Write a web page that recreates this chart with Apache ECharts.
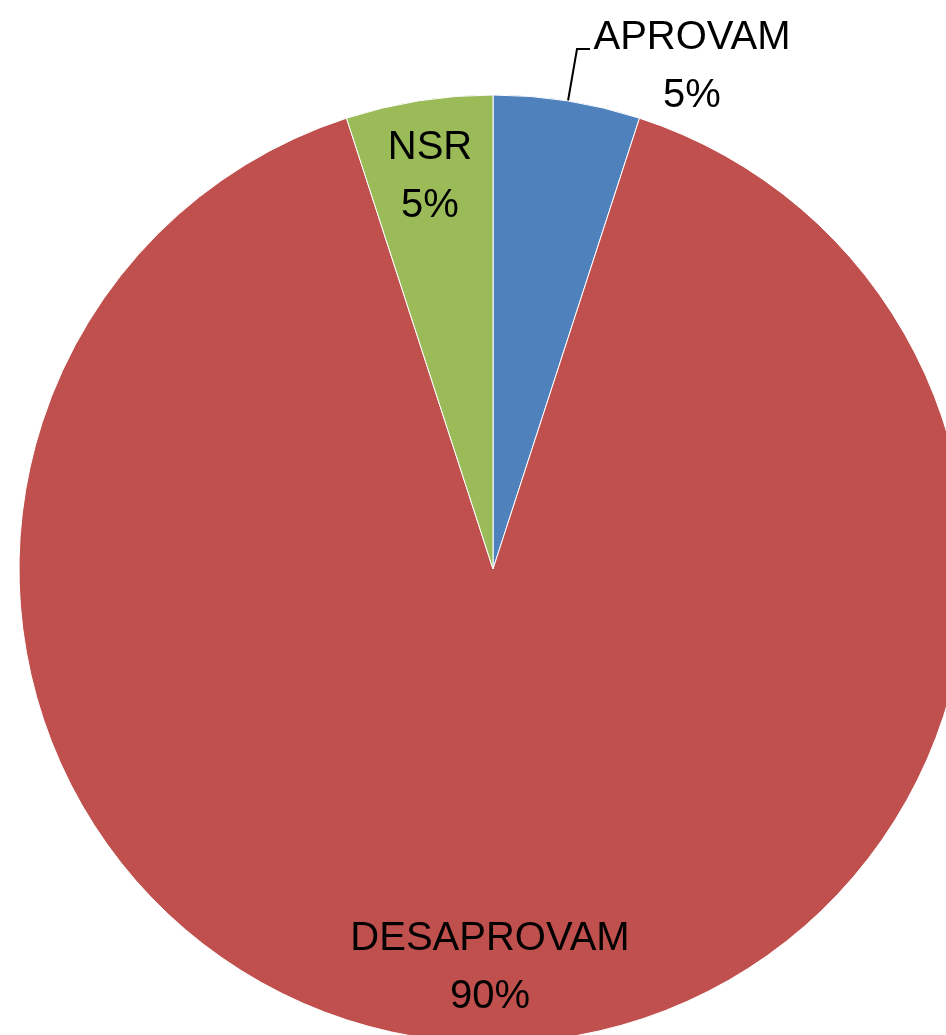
<!DOCTYPE html>
<html>
<head>
<meta charset="utf-8">
<script src="https://cdn.jsdelivr.net/npm/echarts@6/dist/echarts.min.js"></script>
<style>
html,body{margin:0;padding:0;background:#fff;}
#chart{width:946px;height:1035px;}
</style>
</head>
<body>
<div id="chart"></div>
<script>
const categories = ['APROVAM', 'DESAPROVAM', 'NSR'];
const values = [5, 90, 5];
const colors = ['#4F81BD', '#C0504D', '#9BBB59'];

// label anchor positions (layout only)
const labelPos = [
  {x: 692, y: 67, line: [[568, 101], [577, 49], [590, 49]]},
  {x: 490, y: 968},
  {x: 430, y: 177}
];

const chart = echarts.init(document.getElementById('chart'), null, {renderer: 'canvas'});
chart.setOption({
  animation: false,
  backgroundColor: '#ffffff',
  series: [{
    type: 'pie',
    center: [493, 569],
    radius: 474,
    startAngle: 90,
    clockwise: true,
    avoidLabelOverlap: false,
    itemStyle: {borderColor: '#ffffff', borderWidth: 1},
    label: {
      show: true,
      position: 'inside',
      formatter: '{b}\n{d}%',
      color: '#000000',
      fontFamily: 'Liberation Sans',
      fontSize: 40,
      lineHeight: 58,
      align: 'center'
    },
    labelLine: {show: false},
    labelLayout: function (p) {
      const lp = labelPos[p.dataIndex];
      const r = {x: lp.x, y: lp.y, align: 'center', verticalAlign: 'middle', hideOverlap: false};
      if (lp.line) r.labelLinePoints = lp.line;
      return r;
    },
    data: categories.map((c, i) => ({
      name: c,
      value: values[i],
      itemStyle: {color: colors[i]},
      label: i === 0 ? {position: 'outside'} : undefined,
      labelLine: i === 0 ? {show: true, lineStyle: {color: '#000000', width: 2}} : undefined
    }))
  }]
});
</script>
</body>
</html>
